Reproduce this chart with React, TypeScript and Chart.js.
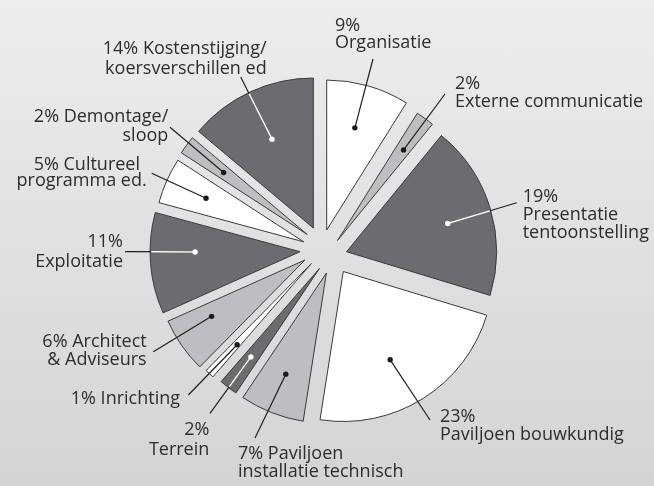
import { useEffect, useRef } from 'react';
import { Chart, registerables } from 'chart.js';

Chart.register(...registerables);

// ---- data ----
const categories = [
  'Organisatie',
  'Externe communicatie',
  'Presentatie tentoonstelling',
  'Paviljoen bouwkundig',
  'Paviljoen installatie technisch',
  'Terrein',
  'Inrichting',
  'Architect & Adviseurs',
  'Exploitatie',
  'Cultureel programma ed.',
  'Demontage/sloop',
  'Kostenstijging/koersverschillen ed',
];
const values = [9, 2, 19, 23, 7, 2, 1, 6, 11, 5, 2, 14];
const labelLines = [
  ['{v}%', 'Organisatie'],
  ['{v}%', 'Externe communicatie'],
  ['{v}%', 'Presentatie', 'tentoonstelling'],
  ['{v}%', 'Paviljoen bouwkundig'],
  ['{v}% Paviljoen', 'installatie technisch'],
  ['{v}%', 'Terrein'],
  ['{v}% Inrichting'],
  ['{v}% Architect', '& Adviseurs'],
  ['{v}%', 'Exploitatie'],
  ['{v}% Cultureel', 'programma ed.'],
  ['{v}% Demontage/', 'sloop'],
  ['{v}% Kostenstijging/', 'koersverschillen ed'],
];

// ---- styles / layout ----
const DARK = '#6b6c70';
const LIGHT = '#bdbec2';
const WHITE = '#ffffff';
const sliceTone = ['w', 'l', 'd', 'w', 'l', 'd', 'w', 'l', 'd', 'w', 'l', 'd'];
const toneColor: Record<string, string> = { d: DARK, l: LIGHT, w: WHITE };

// explode distances per slice: radial and sideways (px)
const explodeRadial = [20.5, 16.9, 23, 29.5, 19.8, 16.1, 17.2, 19.7, 22, 20, 21.2, 23.6];
const explodeSide = [-1, 7.1, 8.8, -6.6, -12.5, -9.2, -1.4, 1.5, 0, 0, 3.7, 1.4];

type LabelLayout = {
  align: CanvasTextAlign;
  xs: number[];
  ys: number[];
  end: [number, number];
  dotFrac: number;
  dotR: number;
};
const labelLayout: LabelLayout[] = [
  { align: 'left', xs: [335, 335], ys: [30.5, 48], end: [373, 59], dotFrac: 0.48, dotR: 106 },
  { align: 'left', xs: [455, 455], ys: [88.5, 107], end: [445, 94], dotFrac: 0.56, dotR: 112 },
  { align: 'left', xs: [522.7, 522.7, 522.7], ys: [202, 220, 238], end: [516.7, 202.7], dotFrac: 0.52, dotR: 105 },
  { align: 'left', xs: [440, 440], ys: [422, 440], end: [430, 420], dotFrac: 0.55, dotR: 100 },
  { align: 'left', xs: [238, 238], ys: [459, 477], end: [255, 438], dotFrac: 0.52, dotR: 109 },
  { align: 'right', xs: [209.3, 209.3], ys: [435, 455], end: [210, 413.3], dotFrac: 0.55, dotR: 112 },
  { align: 'right', xs: [180], ys: [404], end: [188.3, 395], dotFrac: 0.4, dotR: 110 },
  { align: 'right', xs: [146.7, 146.7], ys: [347, 365], end: [153.3, 351.7], dotFrac: 0.67, dotR: 109 },
  { align: 'right', xs: [123, 123], ys: [247, 267], end: [125, 251.7], dotFrac: 0.61, dotR: 105 },
  { align: 'right', xs: [140, 146.7], ys: [170, 186], end: [151.7, 173.3], dotFrac: 0.5, dotR: 107 },
  { align: 'right', xs: [168.3, 168.3], ys: [122, 141], end: [170, 127.3], dotFrac: 0.5, dotR: 104 },
  { align: 'right', xs: [266.7, 266.7], ys: [53.5, 73.5], end: [240.7, 77], dotFrac: 0.5, dotR: 98 },
];

const FONT = '18px "Open Sans", "DejaVu Sans", sans-serif';
const TEXT_COLOR = '#2d2d2d';

const explodePlugin = {
  id: 'explodeSlices',
  afterDatasetUpdate(chart: any, args: any) {
    const meta = chart.getDatasetMeta(args.index);
    meta.data.forEach((el: any, i: number) => {
      const mid = (el.startAngle + el.endAngle) / 2;
      const r = explodeRadial[i] || 0;
      const t = explodeSide[i] || 0;
      el.x += r * Math.cos(mid) - t * Math.sin(mid);
      el.y += r * Math.sin(mid) + t * Math.cos(mid);
    });
  },
};

const labelPlugin = {
  id: 'sliceLabels',
  afterDatasetsDraw(chart: any) {
    const ctx: CanvasRenderingContext2D = chart.ctx;
    const meta = chart.getDatasetMeta(0);
    meta.data.forEach((el: any, i: number) => {
      const L = labelLayout[i];
      const a = el.startAngle + L.dotFrac * (el.endAngle - el.startAngle);
      const px = el.x + L.dotR * Math.cos(a);
      const py = el.y + L.dotR * Math.sin(a);
      const dark = sliceTone[i] === 'd';
      ctx.save();
      ctx.lineCap = 'butt';
      ctx.strokeStyle = '#1f1f1f';
      ctx.lineWidth = 1.2;
      ctx.beginPath();
      ctx.moveTo(px, py);
      ctx.lineTo(L.end[0], L.end[1]);
      ctx.stroke();
      if (dark) {
        ctx.save();
        ctx.beginPath();
        ctx.moveTo(el.x, el.y);
        ctx.arc(el.x, el.y, el.outerRadius - 1, el.startAngle, el.endAngle);
        ctx.closePath();
        ctx.clip();
        ctx.strokeStyle = '#ffffff';
        ctx.lineWidth = 1.5;
        ctx.beginPath();
        ctx.moveTo(px, py);
        ctx.lineTo(L.end[0], L.end[1]);
        ctx.stroke();
        ctx.restore();
      }
      ctx.beginPath();
      ctx.arc(px, py, 2.7, 0, Math.PI * 2);
      ctx.fillStyle = dark ? '#ffffff' : '#1a1a1a';
      ctx.fill();

      ctx.font = FONT;
      ctx.fillStyle = TEXT_COLOR;
      ctx.textAlign = L.align;
      ctx.textBaseline = 'alphabetic';
      labelLines[i].forEach((line, j) => {
        const txt = line.replace('{v}', String(values[i]));
        ctx.fillText(txt, L.xs[j], L.ys[j]);
      });
      ctx.restore();
    });
  },
};

export default function App() {
  const ref = useRef<HTMLCanvasElement>(null);
  useEffect(() => {
    const canvas = ref.current;
    if (!canvas) return;
    const chart = new Chart(canvas, {
      type: 'pie',
      data: {
        labels: categories,
        datasets: [
          {
            data: values,
            backgroundColor: sliceTone.map((t) => toneColor[t]),
            borderColor: '#3a3a3a',
            borderWidth: 1,
            radius: 150,
          } as any,
        ],
      },
      options: {
        responsive: false,
        animation: false,
        events: [],
        radius: 150,
        layout: { padding: { left: 172, right: 182, top: 100, bottom: 86 } },
        plugins: {
          legend: { display: false },
          tooltip: { enabled: false },
        },
      } as any,
      plugins: [explodePlugin, labelPlugin],
    });
    return () => chart.destroy();
  }, []);
  return (
    <div
      style={{
        position: 'absolute',
        left: 0,
        top: 0,
        width: 654,
        height: 486,
        background: 'linear-gradient(to bottom, #ededee 0%, #d3d4d6 100%)',
      }}
    >
      <canvas ref={ref} width={654} height={486} style={{ display: 'block' }} />
    </div>
  );
}
